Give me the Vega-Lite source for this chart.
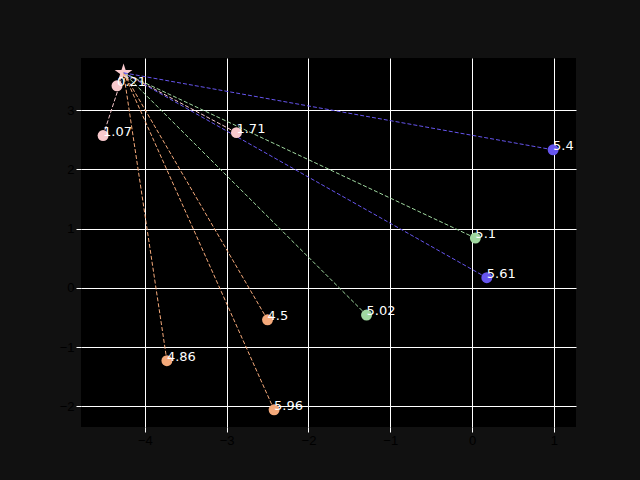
{
  "$schema": "https://vega.github.io/schema/vega-lite/v6.json",
  "width": 495,
  "height": 369,
  "autosize": {"type": "none"},
  "padding": {"left": 81, "top": 58, "right": 64, "bottom": 53},
  "background": "#111111",
  "config": {
    "view": {"fill": "#000000", "strokeWidth": 0},
    "axis": {
      "gridColor": "#ffffff",
      "tickColor": "#ffffff",
      "tickSize": 5,
      "domain": false,
      "labelColor": "#000000",
      "labelFontSize": 13
    }
  },
  "data": {
    "values": [
      {"label": "0.21", "x": -4.34, "y": 3.41, "cluster": "A", "sx": -4.26, "sy": 3.63},
      {"label": "1.07", "x": -4.51, "y": 2.57, "cluster": "A", "sx": -4.26, "sy": 3.63},
      {"label": "1.71", "x": -2.88, "y": 2.62, "cluster": "A", "sx": -4.26, "sy": 3.63},
      {"label": "4.5", "x": -2.5, "y": -0.54, "cluster": "B", "sx": -4.26, "sy": 3.63},
      {"label": "4.86", "x": -3.73, "y": -1.23, "cluster": "B", "sx": -4.26, "sy": 3.63},
      {"label": "5.96", "x": -2.42, "y": -2.06, "cluster": "B", "sx": -4.26, "sy": 3.63},
      {"label": "5.02", "x": -1.29, "y": -0.46, "cluster": "C", "sx": -4.26, "sy": 3.63},
      {"label": "5.1", "x": 0.04, "y": 0.84, "cluster": "C", "sx": -4.26, "sy": 3.63},
      {"label": "5.4", "x": 0.99, "y": 2.33, "cluster": "D", "sx": -4.26, "sy": 3.63},
      {"label": "5.61", "x": 0.18, "y": 0.17, "cluster": "D", "sx": -4.26, "sy": 3.63}
    ]
  },
  "layer": [
    {
      "data": {"values": [{"sx": -4.26, "sy": 3.63}]},
      "mark": {"type": "point", "shape": "M0,-1L0.2245,-0.309L0.951,-0.309L0.363,0.118L0.588,0.809L0,0.382L-0.588,0.809L-0.363,0.118L-0.951,-0.309L-0.2245,-0.309Z", "filled": true, "size": 350, "color": "#f8c8cc", "opacity": 1},
      "encoding": {
        "x": {"field": "sx", "type": "quantitative", "title": null, "scale": {"domain": [-4.78, 1.27], "nice": false, "zero": false}, "axis": {"values": [-4, -3, -2, -1, 0, 1], "format": "d"}},
        "y": {"field": "sy", "type": "quantitative", "title": null, "scale": {"domain": [-2.35, 3.88], "nice": false, "zero": false}, "axis": {"values": [-2, -1, 0, 1, 2, 3], "format": "d"}}
      }
    },
    {
      "mark": {"type": "rule", "strokeDash": [4, 2], "strokeWidth": 1},
      "encoding": {
        "x": {"field": "x", "type": "quantitative"},
        "y": {"field": "y", "type": "quantitative"},
        "x2": {"field": "sx"},
        "y2": {"field": "sy"},
        "color": {"field": "cluster", "type": "nominal", "scale": {"domain": ["A", "B", "C", "D"], "range": ["#f8c8cc", "#f4a97a", "#a0d8a0", "#6655ee"]}, "legend": null}
      }
    },
    {
      "mark": {"type": "circle", "size": 120, "opacity": 1},
      "encoding": {
        "x": {"field": "x", "type": "quantitative"},
        "y": {"field": "y", "type": "quantitative"},
        "color": {"field": "cluster", "type": "nominal", "scale": {"domain": ["A", "B", "C", "D"], "range": ["#f8c8cc", "#f4a97a", "#a0d8a0", "#6655ee"]}, "legend": null}
      }
    },
    {
      "mark": {"type": "text", "align": "left", "baseline": "alphabetic", "color": "#ffffff", "font": "DejaVu Sans", "fontSize": 13},
      "encoding": {
        "x": {"field": "x", "type": "quantitative"},
        "y": {"field": "y", "type": "quantitative"},
        "text": {"field": "label"}
      }
    }
  ]
}
